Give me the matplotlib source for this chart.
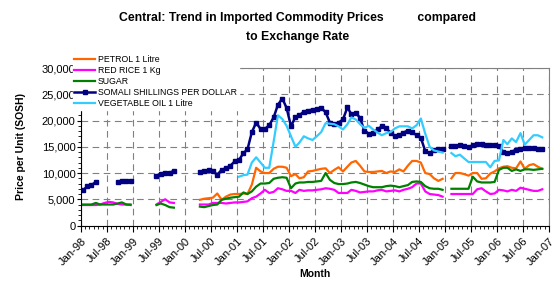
import numpy as np
import pandas as pd
import matplotlib
matplotlib.use("Agg")
import matplotlib.pyplot as plt
import matplotlib.dates as mdates
from matplotlib.ticker import FuncFormatter, MultipleLocator

plt.rcParams['font.family'] = ['Liberation Sans', 'DejaVu Sans']

_ = np.nan
months = pd.date_range('1998-01-01', periods=107, freq='MS')

petrol = ([_] * 27 +
          [4900, 5100, 5200, 5300, 6100, 4900, 5500, 5900, 6000, 6000, 6100, 6000, 7800, 11000,
           10300, 10000, 10000, 10800, 11200, 11200, 11000, 9400, 9800, 9000, 9200, 10300, 10400,
           10600, 10800, 10900, 10000, 10600, 11100, 10300, 11200, 12000, 12300, 11400, 10300,
           10200, 10200, 10300, 10400, 10000, 10300, 10200, 10700, 10300, 11400, 12300, 12300,
           12000, 10000, 9800, 9000, 8500, 8900] +
          [_] +
          [9000, 10000, 10000, 9800, 9500, 10000, 10000, 8900, 9000, 9900, 10300, 10900, 11200,
           11300, 11000, 10900, 12200, 10800, 11500, 11700, 11200, 10800])

red_rice = ([3900, 3900, 3900, 3900, 4000, 4300, 4500, 4400, 4100, 4000, 4000, 3900] +
            [_] * 5 + [4000, 4500, 5000, 4400, 4300] + [_] * 5 +
            [4000, 4000, 4000, 4300, 4300, 4300, 4200, 4300, 4400, 4400, 4500, 4600, 5200, 5500,
             6100, 6800, 6200, 6400, 7100, 6900, 6600, 6600, 6200, 6800, 6600, 6700, 6700, 6800,
             6900, 7100, 7000, 6800, 6200, 6200, 6200, 6800, 6600, 6300, 6400, 6500, 6500, 6700,
             6800, 6500, 6600, 6700, 6500, 6800, 7000, 7300, 8000, 8000, 6500, 6000, 5900, 5800,
             5500] +
            [_] +
            [6000, 6000, 6000, 6000, 6000, 6000, 6900, 7100, 6500, 6000, 6100, 6800, 6700, 6500,
             6800, 6600, 7200, 7000, 6800, 6600, 6600, 6900])

sugar = ([4000, 4000, 4000, 4300, 4000, 4000, 4000, 4000, 4200, 4400, 4000, 4000] +
         [_] * 5 + [3900, 4200, 3900, 3500, 3400] + [_] * 5 +
         [3600, 3500, 3700, 3900, 4000, 4900, 5100, 5300, 5400, 5500, 6300, 6000, 6500, 7400,
          8000, 8000, 8100, 8900, 9100, 9200, 9100, 7100, 8000, 8200, 8200, 8300, 8300, 8400,
          8500, 10000, 8700, 8100, 7900, 7900, 8000, 8200, 8300, 8100, 7800, 7500, 7300, 7300,
          7300, 7500, 7600, 7500, 7300, 7500, 7700, 8300, 8400, 8300, 7500, 7100, 7000, 7000,
          6800] +
         [_] +
         [7000, 7000, 7000, 7000, 7000, 9300, 8400, 8200, 8200, 8200, 8300, 10600, 11000, 11000,
          10400, 10700, 10400, 10700, 10700, 10600, 10700, 10800])

sosh = ([6700, 7500, 7700, 8300] + [_] * 4 + [8300, 8450, 8500, 8500] + [_] * 5 +
        [9500, 9900, 10000, 10050, 10400] + [_] * 5 +
        [10200, 10400, 10600, 10300, 9700, 10600, 10900, 11400, 12200, 12500, 13800, 14500,
         17800, 19600, 18400, 18400, 19100, 20600, 23000, 24200, 22400, 18900] +
        [20700, 21000, 21700, 21900, 22100, 22200, 22400, 21600, 19600, 19400, 19600, 20200,
         22500, 21200, 21500, 20500, 18000, 17500, 17700, 18300, 18900, 18500, 17700, 17000,
         17200, 17700, 18100, 17800, 17200, 16700, 14200, 13800, 14400, 14500, 14600] +
        [_] +
        [15100, 15100, 15300, 15100, 14900, 15300, 15500, 15500, 15400, 15300, 15300, 15100,
         14000, 13800, 14100, 14400, 14600, 14800, 14800, 14700, 14600, 14600])

veg_oil = ([_] * 36 +
           [9300, 9600, 9700, 12000, 13000, 12000, 11000, 11000, 16000, 21000, 20300, 19000,
            17000, 15000, 15800, 17000, 16600, 16300, 17000, 17800, 19500, 19400, 19300, 18900,
            18300, 19300, 20600, 20200, 19300, 18600, 19000, 18300, 17700, 17200, 17600, 17800,
            18500, 18900, 18900, 18900, 18500, 19100, 20400, 17500, 15000, 14300, 14100, 13900] +
           [_] +
           [13800, 13200, 13500, 12800, 12100, 12100, 12100, 12100, 12100, 11100, 12300, 12400,
            16300, 15500, 16600, 15900, 17600, 15400, 16300, 17200, 17200, 16800])

labels = ['PETROL 1 Litre', 'RED RICE 1 Kg', 'SUGAR', 'SOMALI SHILLINGS PER DOLLAR',
          'VEGETABLE OIL 1 Litre']
colors = ['#FF6600', '#FF00FF', '#008000', '#000080', '#33CCFF']

x = months + pd.Timedelta(days=14)

fig = plt.figure(figsize=(5.59, 2.86), dpi=100)
ax = fig.add_axes([0.145, 0.2115, 0.837, 0.5505])

series = [petrol, red_rice, sugar, sosh, veg_oil]
handles = []
for vals, lab, col in zip(series, labels, colors):
    kw = dict(color=col, lw=1.6, label=lab)
    if lab.startswith('SOMALI'):
        kw.update(marker='s', ms=3.2, mfc=col, mec=col, lw=1.8)
    h, = ax.plot(x, vals, **kw)
    handles.append(h)

ax.set_xlim(pd.Timestamp('1998-01-01'), pd.Timestamp('2007-01-01'))
ax.set_ylim(0, 30000)
ax.xaxis.set_major_locator(mdates.MonthLocator(bymonth=[1, 7]))
ax.xaxis.set_minor_locator(mdates.MonthLocator())
ax.xaxis.set_major_formatter(mdates.DateFormatter('%b-%y'))
ax.yaxis.set_major_locator(MultipleLocator(5000))
ax.yaxis.set_minor_locator(MultipleLocator(1000))
ax.yaxis.set_major_formatter(FuncFormatter(lambda v, p: f'{v:,.0f}'))

ax.grid(True, which='major', color='#808080', linestyle=(0, (6, 4)), lw=0.8)
ax.tick_params(axis='both', which='major', labelsize=8, length=4, width=0.8, color='black')
ax.tick_params(axis='y', which='major', length=3, pad=1)
ax.tick_params(axis='both', which='minor', length=2.5, width=0.6)
for lbl in ax.get_xticklabels():
    lbl.set_rotation(45)
    lbl.set_ha('right')
    lbl.set_rotation_mode('anchor')

for s in ['top', 'right']:
    ax.spines[s].set_color('#808080')
for s in ['left', 'bottom']:
    ax.spines[s].set_color('black')

ax.set_xlabel('Month', fontsize=7.5, fontweight='bold', labelpad=1)
ax.set_ylabel('Price per Unit (SOSH)', fontsize=7.5, fontweight='bold', labelpad=11)

leg = fig.legend(handles, labels, loc='upper left', bbox_to_anchor=(0.13, 0.815),
                 bbox_transform=fig.transFigure,
                 fontsize=6.3, frameon=True, facecolor='white', edgecolor='white', framealpha=1,
                 handlelength=2.4, handletextpad=0.3, labelspacing=0.25, borderpad=0.2,
                 borderaxespad=0, fancybox=False)
leg.set_zorder(10)

fig.text(0.532, 0.958, 'Central: Trend in Imported Commodity Prices          compared\nto Exchange Rate',
         ha='center', va='top', fontsize=8.8, fontweight='bold', linespacing=1.75)

fig.savefig('out.png', dpi=100)
